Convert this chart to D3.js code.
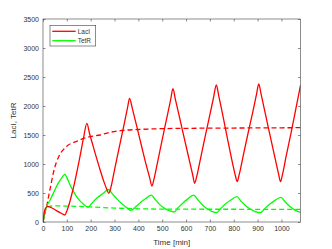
<!DOCTYPE html>
<html>
<head>
<meta charset="utf-8">
<script src="https://cdn.jsdelivr.net/npm/d3@7"></script>
<style>
  html, body { margin: 0; padding: 0; background: #fff; }
  svg { display: block; font-family: "Liberation Sans", Arial, sans-serif; }
</style>
</head>
<body>
<svg id="chart" width="332" height="249"></svg>
<script>
// ---- Data ----
const seriesNames = ["LacI", "TetR"];
const seriesColors = ["#ff0000", "#00ff00"];

const laciTime   = [0, 4, 10, 20, 30, 50, 70, 85, 92, 100, 110, 120, 127, 140, 155, 170, 184, 195, 215, 235, 255, 268, 276, 285, 300, 320, 340, 355, 363, 375, 395, 415, 435, 447, 457, 465, 480, 500, 520, 535, 545, 555, 575, 595, 615, 628, 636, 645, 660, 680, 700, 715, 727, 737, 758, 779, 800, 808, 814, 823, 840, 860, 880, 895, 905, 915, 935, 955, 975, 988, 996, 1005, 1020, 1040, 1060, 1080];
const laciValues = [0, 130, 230, 270, 258, 212, 165, 132, 121, 190, 310, 465, 581, 820, 1126, 1450, 1700, 1530, 1240, 960, 700, 560, 495, 600, 900, 1290, 1680, 1980, 2132, 1950, 1620, 1280, 950, 770, 620, 730, 1020, 1420, 1810, 2100, 2298, 2120, 1760, 1400, 1040, 810, 667, 790, 1080, 1470, 1850, 2140, 2362, 2180, 1760, 1330, 920, 780, 695, 820, 1150, 1530, 1900, 2190, 2379, 2200, 1820, 1440, 1070, 830, 695, 830, 1140, 1530, 1940, 2355];

const tetrTime   = [0, 5, 10, 15, 30, 43, 60, 75, 92, 100, 115, 130, 141, 155, 170, 182, 190, 200, 225, 253, 275, 290, 302, 320, 337, 355, 368, 390, 410, 430, 454, 470, 490, 510, 530, 550, 565, 585, 605, 632, 650, 670, 690, 710, 727, 745, 765, 785, 814, 830, 850, 870, 890, 912, 930, 950, 970, 998, 1015, 1035, 1055, 1080];
const tetrValues = [0, 100, 200, 264, 380, 494, 640, 740, 822, 765, 625, 510, 436, 365, 305, 268, 255, 300, 408, 495, 560, 490, 436, 355, 293, 235, 200, 268, 340, 400, 465, 390, 300, 235, 195, 172, 240, 320, 390, 465, 380, 290, 225, 180, 160, 230, 310, 370, 436, 360, 280, 220, 180, 160, 230, 305, 365, 426, 350, 270, 210, 167];

const laciMeanTime   = [0, 4, 9, 15, 22, 29, 36, 43, 50, 57, 67, 78, 92, 106, 125, 141, 170, 197, 239, 280, 323, 400, 492, 600, 800, 1080];
const laciMeanValues = [0, 65, 170, 264, 410, 552, 700, 840, 950, 1040, 1135, 1212, 1275, 1327, 1365, 1390, 1440, 1470, 1500, 1545, 1574, 1595, 1609, 1615, 1620, 1626];

const tetrMeanTime   = [0, 3, 6, 10, 15, 20, 30, 45, 70, 100, 150, 200, 300, 400, 500, 700, 900, 1080];
const tetrMeanValues = [0, 90, 160, 215, 250, 262, 272, 277, 278, 275, 268, 260, 240, 228, 222, 220, 219, 218];

const xTicks = [0, 100, 200, 300, 400, 500, 600, 700, 800, 900, 1000];
const yTicks = [0, 500, 1000, 1500, 2000, 2500, 3000, 3500];
const xLabel = "Time [min]";
const yLabel = "LacI, TetR";

// ---- Layout ----
const svg = d3.select("#chart");
const plot = { left: 43, right: 300.5, top: 19, bottom: 222 };
const axisColor = "#404040";
const textColor = "#333333";

const x = d3.scaleLinear().domain([0, 1080]).range([plot.left, plot.right]);
const y = d3.scaleLinear().domain([0, 3500]).range([plot.bottom, plot.top]);

svg.append("defs").append("clipPath").attr("id", "clip")
  .append("rect").attr("x", plot.left).attr("y", plot.top)
  .attr("width", plot.right - plot.left).attr("height", plot.bottom - plot.top);

const toPts = (ts, vs) => ts.map((t, i) => [t, vs[i]]);
const line = d3.line().x(d => x(d[0])).y(d => y(d[1])).curve(d3.curveMonotoneX);

const g = svg.append("g").attr("clip-path", "url(#clip)");
const series = [
  { pts: toPts(laciMeanTime, laciMeanValues), color: seriesColors[0], dash: "5,3" },
  { pts: toPts(tetrMeanTime, tetrMeanValues), color: seriesColors[1], dash: "5,3" },
  { pts: toPts(tetrTime, tetrValues), color: seriesColors[1], dash: null },
  { pts: toPts(laciTime, laciValues), color: seriesColors[0], dash: null }
];
series.forEach(s => {
  g.append("path").datum(s.pts)
    .attr("d", line)
    .attr("fill", "none")
    .attr("stroke", s.color)
    .attr("stroke-width", 1.3)
    .attr("stroke-dasharray", s.dash)
    .attr("stroke-linejoin", "round");
});

const tickLen = 2.5;
const fmt = d3.format("d");
const xAxisB = d3.axisBottom(x).tickValues(xTicks).tickFormat(fmt).tickSizeInner(-tickLen).tickSizeOuter(0).tickPadding(4);
const xAxisT = d3.axisTop(x).tickValues(xTicks).tickSizeInner(-tickLen).tickSizeOuter(0).tickFormat("");
const yAxisL = d3.axisLeft(y).tickValues(yTicks).tickFormat(fmt).tickSizeInner(-tickLen).tickSizeOuter(0).tickPadding(4);
const yAxisR = d3.axisRight(y).tickValues(yTicks).tickSizeInner(-tickLen).tickSizeOuter(0).tickFormat("");

function styleAxis(sel) {
  sel.select(".domain").remove();
  sel.selectAll("line").attr("stroke", axisColor).attr("stroke-width", 0.6);
  sel.selectAll("text").attr("fill", textColor).style("font-size", "7px")
    .style("font-family", "'Liberation Sans', Arial, sans-serif");
}
svg.append("g").attr("transform", `translate(0,${plot.bottom})`).call(xAxisB).call(styleAxis);
svg.append("g").attr("transform", `translate(0,${plot.top})`).call(xAxisT).call(styleAxis);
svg.append("g").attr("transform", `translate(${plot.left},0)`).call(yAxisL).call(styleAxis);
svg.append("g").attr("transform", `translate(${plot.right},0)`).call(yAxisR).call(styleAxis);

svg.append("rect").attr("x", plot.left).attr("y", plot.top)
  .attr("width", plot.right - plot.left).attr("height", plot.bottom - plot.top)
  .attr("fill", "none").attr("stroke", axisColor).attr("stroke-width", 0.6);

svg.append("text").attr("x", (plot.left + plot.right) / 2).attr("y", 245)
  .attr("text-anchor", "middle").attr("fill", textColor)
  .style("font-size", "8px").text(xLabel);
svg.append("text").attr("transform", `translate(16,${(plot.top + plot.bottom) / 2}) rotate(-90)`)
  .attr("text-anchor", "middle").attr("fill", textColor)
  .style("font-size", "8px").text(yLabel);

const lg = svg.append("g");
lg.append("rect").attr("x", 50).attr("y", 25.3).attr("width", 45.7).attr("height", 20.7)
  .attr("fill", "#fff").attr("stroke", axisColor).attr("stroke-width", 0.6);
seriesNames.forEach((name, i) => {
  const yy = 31.3 + i * 9.4;
  lg.append("line").attr("x1", 52.3).attr("x2", 75.7).attr("y1", yy).attr("y2", yy)
    .attr("stroke", seriesColors[i]).attr("stroke-width", 1.3);
  lg.append("text").attr("x", 77.7).attr("y", yy + 2.4).attr("fill", textColor)
    .style("font-size", "6.5px").text(name);
});
</script>
</body>
</html>
